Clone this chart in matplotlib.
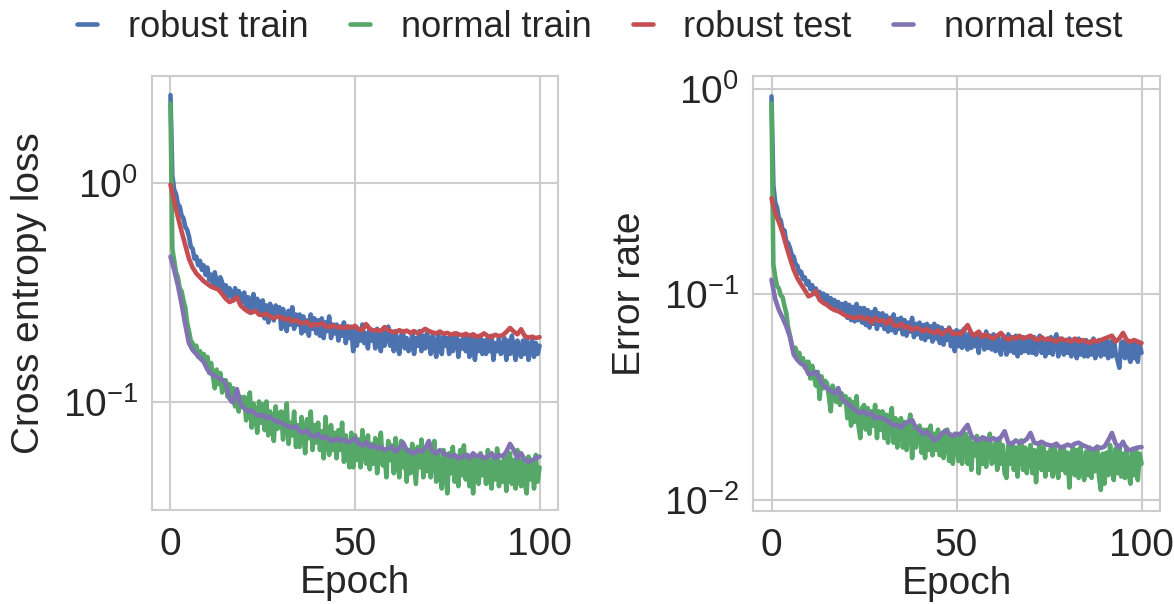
import numpy as np
import matplotlib
matplotlib.use("Agg")
import matplotlib.pyplot as plt
import seaborn as sns

# training curves are logged every half epoch, test curves once per epoch
train_epochs = np.arange(0, 100.01, 0.5)
test_epochs = np.arange(0, 101)

loss_robust_train = [
    2.52, 1.08, 0.93, 0.89, 0.80, 0.78, 0.71, 0.69, 0.63, 0.61,
    0.57, 0.51, 0.50, 0.45, 0.46, 0.42, 0.44, 0.40, 0.42, 0.38,
    0.41, 0.36, 0.38, 0.34, 0.39, 0.35, 0.33, 0.37, 0.35, 0.31,
    0.34, 0.30, 0.33, 0.31, 0.29, 0.33, 0.30, 0.32, 0.28, 0.31,
    0.315, 0.265, 0.30, 0.255, 0.29, 0.31, 0.26, 0.295, 0.25, 0.285,
    0.29, 0.24, 0.275, 0.23, 0.28, 0.25, 0.235, 0.275, 0.245, 0.27,
    0.215, 0.265, 0.235, 0.21, 0.26, 0.225, 0.27, 0.215, 0.25, 0.225,
    0.25, 0.205, 0.245, 0.21, 0.235, 0.20, 0.25, 0.215, 0.24, 0.205,
    0.235, 0.20, 0.24, 0.195, 0.23, 0.21, 0.245, 0.195, 0.225, 0.205,
    0.225, 0.19, 0.22, 0.20, 0.23, 0.185, 0.215, 0.195, 0.22, 0.17,
    0.215, 0.18, 0.21, 0.19, 0.225, 0.185, 0.205, 0.175, 0.215, 0.19,
    0.205, 0.175, 0.215, 0.185, 0.17, 0.21, 0.18, 0.20, 0.22, 0.18,
    0.20, 0.17, 0.21, 0.18, 0.165, 0.20, 0.21, 0.175, 0.195, 0.17,
    0.175, 0.205, 0.165, 0.195, 0.18, 0.21, 0.17, 0.20, 0.175, 0.205,
    0.19, 0.165, 0.20, 0.18, 0.16, 0.205, 0.175, 0.165, 0.20, 0.18,
    0.195, 0.165, 0.20, 0.17, 0.185, 0.205, 0.16, 0.19, 0.175, 0.20,
    0.17, 0.195, 0.16, 0.20, 0.18, 0.155, 0.195, 0.17, 0.20, 0.165,
    0.19, 0.165, 0.195, 0.17, 0.20, 0.155, 0.185, 0.17, 0.195, 0.165,
    0.17, 0.195, 0.155, 0.19, 0.165, 0.20, 0.175, 0.155, 0.19, 0.17,
    0.16, 0.19, 0.165, 0.195, 0.155, 0.18, 0.19, 0.16, 0.185, 0.165,
    0.18,
]
loss_normal_train = [
    2.30, 0.50, 0.44, 0.39, 0.37, 0.33, 0.32, 0.29, 0.27, 0.23,
    0.21, 0.19, 0.185, 0.17, 0.18, 0.16, 0.17, 0.155, 0.165, 0.15,
    0.16, 0.135, 0.15, 0.13, 0.115, 0.14, 0.12, 0.135, 0.11, 0.125,
    0.125, 0.105, 0.12, 0.10, 0.115, 0.095, 0.11, 0.09, 0.105, 0.095,
    0.105, 0.082, 0.10, 0.11, 0.076, 0.098, 0.088, 0.072, 0.10, 0.08,
    0.097, 0.074, 0.10, 0.07, 0.09, 0.08, 0.066, 0.095, 0.075, 0.088,
    0.09, 0.067, 0.083, 0.098, 0.064, 0.08, 0.07, 0.09, 0.062, 0.078,
    0.062, 0.085, 0.072, 0.058, 0.083, 0.068, 0.09, 0.06, 0.078, 0.065,
    0.08, 0.06, 0.073, 0.055, 0.085, 0.065, 0.057, 0.078, 0.06, 0.072,
    0.055, 0.074, 0.06, 0.08, 0.053, 0.07, 0.058, 0.05, 0.072, 0.05,
    0.07, 0.054, 0.067, 0.05, 0.074, 0.058, 0.052, 0.07, 0.049, 0.064,
    0.052, 0.068, 0.047, 0.062, 0.072, 0.051, 0.06, 0.045, 0.066, 0.054,
    0.063, 0.047, 0.068, 0.053, 0.045, 0.066, 0.05, 0.06, 0.043, 0.06,
    0.047, 0.064, 0.052, 0.042, 0.062, 0.05, 0.067, 0.045, 0.059, 0.048,
    0.061, 0.045, 0.056, 0.066, 0.043, 0.058, 0.047, 0.04, 0.06, 0.05,
    0.038, 0.058, 0.047, 0.062, 0.043, 0.055, 0.041, 0.06, 0.046, 0.063,
    0.044, 0.057, 0.041, 0.055, 0.038, 0.056, 0.045, 0.042, 0.058, 0.046,
    0.055, 0.042, 0.06, 0.045, 0.04, 0.056, 0.044, 0.061, 0.041, 0.053,
    0.043, 0.057, 0.039, 0.053, 0.058, 0.042, 0.054, 0.04, 0.06, 0.044,
    0.041, 0.055, 0.043, 0.038, 0.056, 0.044, 0.053, 0.04, 0.057, 0.043,
    0.05,
]
loss_robust_test = [
    0.98, 0.82, 0.70, 0.60, 0.52, 0.45, 0.41, 0.385, 0.37, 0.355,
    0.345, 0.335, 0.33, 0.325, 0.31, 0.295, 0.285, 0.29, 0.30, 0.275,
    0.265, 0.258, 0.255, 0.26, 0.25, 0.248, 0.252, 0.245, 0.24, 0.245,
    0.243, 0.237, 0.24, 0.232, 0.236, 0.23, 0.228, 0.232, 0.222, 0.226,
    0.224, 0.228, 0.221, 0.219, 0.223, 0.218, 0.22, 0.216, 0.221, 0.217,
    0.222, 0.214, 0.212, 0.226, 0.215, 0.211, 0.213, 0.21, 0.219, 0.212,
    0.209, 0.207, 0.212, 0.208, 0.211, 0.206, 0.21, 0.205, 0.209, 0.215,
    0.21, 0.207, 0.205, 0.209, 0.204, 0.206, 0.202, 0.205, 0.203, 0.201,
    0.204, 0.20, 0.203, 0.198, 0.20, 0.205, 0.199, 0.197, 0.202, 0.199,
    0.201, 0.208, 0.217, 0.209, 0.203, 0.214, 0.199, 0.196, 0.198, 0.195,
    0.197,
]
loss_normal_test = [
    0.46, 0.40, 0.34, 0.28, 0.225, 0.185, 0.172, 0.165, 0.158, 0.152,
    0.14, 0.134, 0.131, 0.128, 0.126, 0.12, 0.103, 0.099, 0.114, 0.097,
    0.093, 0.09, 0.091, 0.088, 0.086, 0.087, 0.084, 0.085, 0.082, 0.081,
    0.08, 0.078, 0.077, 0.076, 0.077, 0.073, 0.072, 0.074, 0.07, 0.069,
    0.071, 0.068, 0.069, 0.067, 0.066, 0.068, 0.066, 0.067, 0.065, 0.066,
    0.068, 0.064, 0.063, 0.065, 0.062, 0.063, 0.061, 0.062, 0.06, 0.061,
    0.062, 0.059, 0.061, 0.065, 0.06, 0.059, 0.058, 0.06, 0.059, 0.061,
    0.066, 0.059, 0.058, 0.06, 0.058, 0.057, 0.056, 0.057, 0.055, 0.056,
    0.057, 0.055, 0.058, 0.056, 0.057, 0.055, 0.056, 0.058, 0.055, 0.057,
    0.056, 0.059, 0.064, 0.06, 0.055, 0.058, 0.054, 0.053, 0.054, 0.055,
    0.056,
]

err_robust_train = [
    0.92, 0.34, 0.28, 0.265, 0.235, 0.23, 0.205, 0.205, 0.18, 0.178,
    0.168, 0.155, 0.153, 0.14, 0.138, 0.127, 0.129, 0.119, 0.121, 0.112,
    0.116, 0.106, 0.111, 0.101, 0.107, 0.098, 0.103, 0.095, 0.101, 0.093,
    0.099, 0.091, 0.096, 0.088, 0.094, 0.085, 0.092, 0.086, 0.09, 0.083,
    0.091, 0.077, 0.089, 0.075, 0.087, 0.074, 0.09, 0.075, 0.086, 0.073,
    0.086, 0.071, 0.084, 0.069, 0.082, 0.072, 0.085, 0.068, 0.081, 0.071,
    0.081, 0.068, 0.079, 0.066, 0.077, 0.067, 0.08, 0.065, 0.076, 0.068,
    0.077, 0.064, 0.075, 0.063, 0.073, 0.066, 0.077, 0.062, 0.072, 0.064,
    0.073, 0.061, 0.071, 0.06, 0.072, 0.062, 0.07, 0.059, 0.072, 0.061,
    0.07, 0.058, 0.069, 0.057, 0.067, 0.06, 0.069, 0.056, 0.066, 0.053,
    0.067, 0.056, 0.066, 0.055, 0.068, 0.057, 0.054, 0.065, 0.055, 0.064,
    0.056, 0.065, 0.052, 0.064, 0.063, 0.054, 0.066, 0.055, 0.063, 0.054,
    0.064, 0.053, 0.063, 0.054, 0.051, 0.063, 0.061, 0.051, 0.064, 0.053,
    0.062, 0.052, 0.063, 0.05, 0.061, 0.052, 0.062, 0.053, 0.06, 0.052,
    0.061, 0.052, 0.062, 0.051, 0.06, 0.063, 0.052, 0.06, 0.05, 0.061,
    0.052, 0.062, 0.051, 0.06, 0.064, 0.05, 0.059, 0.061, 0.051, 0.06,
    0.052, 0.061, 0.05, 0.06, 0.053, 0.049, 0.061, 0.051, 0.059, 0.05,
    0.06, 0.05, 0.059, 0.051, 0.061, 0.049, 0.058, 0.06, 0.05, 0.059,
    0.051, 0.06, 0.049, 0.059, 0.05, 0.061, 0.052, 0.048, 0.044, 0.058,
    0.059, 0.049, 0.06, 0.05, 0.047, 0.059, 0.049, 0.058, 0.047, 0.057,
    0.052,
]
err_normal_train = [
    0.85, 0.14, 0.122, 0.11, 0.107, 0.099, 0.097, 0.088, 0.081, 0.069,
    0.063, 0.057, 0.053, 0.055, 0.05, 0.052, 0.047, 0.049, 0.044, 0.047,
    0.047, 0.039, 0.045, 0.04, 0.036, 0.042, 0.031, 0.04, 0.035, 0.038,
    0.037, 0.032, 0.027, 0.036, 0.033, 0.03, 0.035, 0.029, 0.033, 0.03,
    0.032, 0.025, 0.031, 0.023, 0.03, 0.024, 0.032, 0.023, 0.02, 0.028,
    0.029, 0.022, 0.028, 0.021, 0.027, 0.023, 0.029, 0.02, 0.027, 0.022,
    0.027, 0.02, 0.026, 0.019, 0.025, 0.028, 0.019, 0.025, 0.018, 0.024,
    0.025, 0.018, 0.024, 0.0175, 0.023, 0.026, 0.016, 0.023, 0.018, 0.022,
    0.023, 0.017, 0.022, 0.016, 0.022, 0.0175, 0.023, 0.0165, 0.021, 0.0175,
    0.022, 0.0165, 0.021, 0.016, 0.02, 0.022, 0.0155, 0.02, 0.015, 0.021,
    0.02, 0.0155, 0.021, 0.015, 0.0195, 0.021, 0.015, 0.02, 0.014, 0.019,
    0.0165, 0.0205, 0.0135, 0.019, 0.015, 0.02, 0.0145, 0.0185, 0.021, 0.015,
    0.0155, 0.019, 0.014, 0.02, 0.015, 0.0185, 0.0135, 0.0128, 0.0185, 0.015,
    0.019, 0.014, 0.018, 0.013, 0.0185, 0.0195, 0.014, 0.018, 0.0135, 0.017,
    0.0185, 0.0135, 0.0175, 0.0122, 0.017, 0.0185, 0.014, 0.018, 0.013, 0.017,
    0.014, 0.0178, 0.013, 0.0185, 0.0145, 0.0128, 0.0175, 0.014, 0.0182, 0.0135,
    0.017, 0.0115, 0.0165, 0.018, 0.0132, 0.0175, 0.0128, 0.018, 0.014, 0.0125,
    0.0172, 0.0132, 0.018, 0.0128, 0.017, 0.0138, 0.0182, 0.013, 0.0112, 0.0168,
    0.012, 0.017, 0.0132, 0.0185, 0.014, 0.0125, 0.0178, 0.0135, 0.018, 0.013,
    0.0168, 0.0128, 0.018, 0.0135, 0.012, 0.0172, 0.0132, 0.0178, 0.0125, 0.0168,
    0.015,
]
err_robust_test = [
    0.294, 0.25, 0.225, 0.20, 0.172, 0.15, 0.132, 0.12, 0.112, 0.105,
    0.098, 0.10, 0.104, 0.094, 0.091, 0.089, 0.086, 0.084, 0.083, 0.081,
    0.079, 0.078, 0.077, 0.077, 0.078, 0.076, 0.077, 0.073, 0.077, 0.074,
    0.075, 0.072, 0.076, 0.071, 0.07, 0.072, 0.069, 0.07, 0.067, 0.069,
    0.068, 0.066, 0.068, 0.066, 0.065, 0.067, 0.064, 0.066, 0.068, 0.064,
    0.065, 0.064, 0.067, 0.071, 0.065, 0.063, 0.066, 0.062, 0.064, 0.062,
    0.061, 0.063, 0.065, 0.062, 0.06, 0.062, 0.061, 0.063, 0.061, 0.062,
    0.063, 0.061, 0.06, 0.062, 0.06, 0.061, 0.06, 0.059, 0.061, 0.06,
    0.06, 0.059, 0.061, 0.059, 0.06, 0.059, 0.058, 0.06, 0.059, 0.06,
    0.061, 0.062, 0.063, 0.059, 0.061, 0.065, 0.06, 0.059, 0.06, 0.059,
    0.058,
]
err_normal_test = [
    0.118, 0.095, 0.084, 0.077, 0.07, 0.062, 0.051, 0.048, 0.046, 0.045,
    0.041, 0.041, 0.042, 0.039, 0.036, 0.035, 0.034, 0.033, 0.035, 0.031,
    0.03, 0.029, 0.028, 0.027, 0.0265, 0.027, 0.026, 0.0265, 0.025, 0.0253,
    0.025, 0.0245, 0.0238, 0.023, 0.0232, 0.0225, 0.0235, 0.024, 0.0245, 0.0225,
    0.0218, 0.021, 0.0215, 0.0205, 0.0195, 0.02, 0.021, 0.0218, 0.021, 0.0205,
    0.021, 0.0208, 0.022, 0.0232, 0.0205, 0.0198, 0.0195, 0.0202, 0.0198, 0.0196,
    0.02, 0.0195, 0.0202, 0.0216, 0.019, 0.0187, 0.0195, 0.019, 0.0192, 0.0198,
    0.0212, 0.019, 0.0188, 0.0192, 0.0187, 0.0185, 0.0184, 0.0188, 0.018, 0.0182,
    0.0186, 0.0183, 0.0188, 0.019, 0.0185, 0.0182, 0.0178, 0.0176, 0.0181, 0.0179,
    0.0182, 0.0195, 0.0212, 0.0188, 0.018, 0.0192, 0.0176, 0.0175, 0.0178, 0.018,
    0.0181,
]

labels = ["robust train", "normal train", "robust test", "normal test"]
colors = ["#4C72B0", "#55A868", "#C44E52", "#8172B2"]

sns.set_style("whitegrid", {"grid.color": ".8", "axes.edgecolor": ".8"})
plt.rcParams["font.family"] = ["Liberation Sans", "DejaVu Sans"]
plt.rcParams["font.size"] = 28
plt.rcParams["axes.linewidth"] = 1.5
plt.rcParams["grid.linewidth"] = 1.5

fig = plt.figure(figsize=(11.74, 6.04), dpi=100)
ax1 = fig.add_axes([0.1295, 0.1556, 0.3458, 0.7185])
ax2 = fig.add_axes([0.6414, 0.1540, 0.3467, 0.7202])

panels = [
    (ax1, [loss_robust_train, loss_normal_train, loss_robust_test, loss_normal_test],
     "Cross entropy loss", (0.0319, 3.08)),
    (ax2, [err_robust_train, err_normal_train, err_robust_test, err_normal_test],
     "Error rate", (0.00884, 1.157)),
]

for ax, series, ylabel, ylim in panels:
    for i, (ys, lab, col) in enumerate(zip(series, labels, colors)):
        xs = train_epochs if i < 2 else test_epochs
        ax.plot(xs, ys, color=col, lw=3.3, label=lab)
    ax.set_yscale("log")
    ax.set_ylim(*ylim)
    ax.set_xlim(-5, 105)
    ax.set_xticks([0, 50, 100])
    ax.yaxis.set_minor_locator(matplotlib.ticker.NullLocator())
    ax.tick_params(axis="x", pad=12, length=0)
    ax.tick_params(axis="y", pad=10, length=0)
    ax.set_xlabel("Epoch")
    ax.set_ylabel(ylabel)
    ax.xaxis.set_label_coords(0.5, -0.127)
    ax.yaxis.set_label_coords(-0.258, 0.5)

handles, labs = ax1.get_legend_handles_labels()
fig.legend(handles, labs, loc="center", bbox_to_anchor=(0.511, 0.955), ncol=4,
           frameon=False, fontsize=26, handlelength=0.55, handletextpad=0.85,
           columnspacing=1.15)

fig.savefig("out.png", dpi=100)
